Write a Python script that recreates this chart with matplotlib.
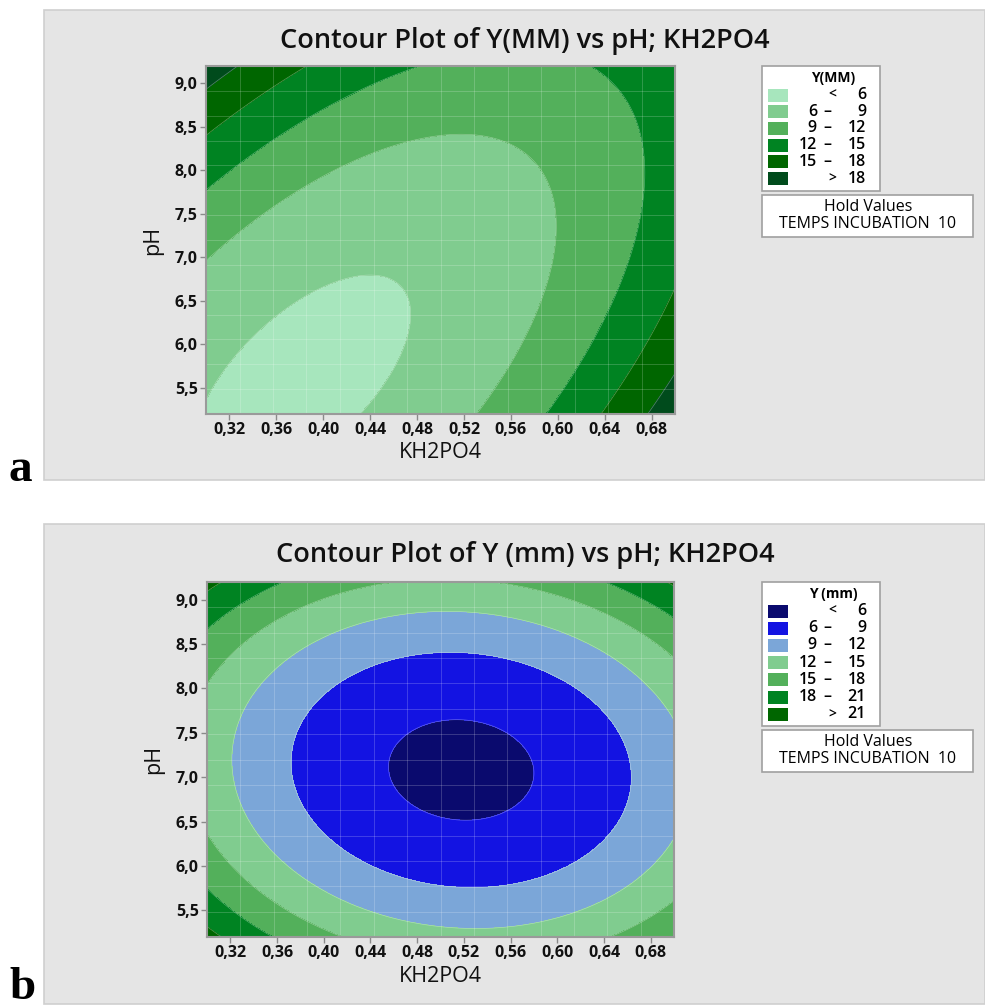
import numpy as np
import matplotlib.pyplot as plt
from matplotlib.patches import Rectangle

plt.rcParams["font.family"] = ["Open Sans", "DejaVu Sans"]

# Quadratic response-surface models in coded units:
#   X1 = (KH2PO4 - 0.5) / 0.1,  X2 = pH - 7.2
#   Y = b0 + b1*X1 + b2*X2 + b11*X1^2 + b22*X2^2 + b12*X1*X2
coef_a = [6.7353, 1.0457, 0.9787, 1.2822, 0.755, -1.2304]
coef_b = [5.4088, -0.5877, 0.4514, 1.7347, 2.098, 0.2389]

kh2po4_range = (0.30, 0.70)
ph_range = (5.2, 9.2)
hold_value = 10

levels_a = [6, 9, 12, 15, 18]
colors_a = ["#a7e6bd", "#80cc8f", "#53b05b", "#008322", "#006600", "#004b1c"]
levels_b = [6, 9, 12, 15, 18, 21]
colors_b = ["#0a0a6e", "#1313e2", "#7ba6d8", "#80cc8f", "#53b05b", "#008322", "#006600"]

x_ticks = [0.32, 0.36, 0.40, 0.44, 0.48, 0.52, 0.56, 0.60, 0.64, 0.68]
y_ticks = [5.5, 6.0, 6.5, 7.0, 7.5, 8.0, 8.5, 9.0]

W, H = 985, 1006
fig = plt.figure(figsize=(W / 100, H / 100), dpi=100, facecolor="white")

# full-figure axes in pixel units for the panels, boxes and loose text
bg = fig.add_axes([0, 0, 1, 1], zorder=0)
bg.set_xlim(0, W)
bg.set_ylim(H, 0)
bg.axis("off")


def surface(coef, x, p):
    a = (x - 0.5) / 0.1
    b = p - 7.2
    return coef[0] + coef[1] * a + coef[2] * b + coef[3] * a * a + coef[4] * b * b + coef[5] * a * b


def fmt(v, nd):
    return f"{v:.{nd}f}".replace(".", ",")


def legend_label(i, levels):
    if i == 0:
        return None, "<", str(levels[0])
    if i == len(levels):
        return None, ">", str(levels[-1])
    return str(levels[i - 1]), "\u2013", str(levels[i])


def draw_panel(top, bottom_edge, coef, levels, colors, title, legend_title, letter, plot_box, row_step):
    left, ptop, right, bottom = plot_box
    bg.add_patch(Rectangle((44, top), W - 44, bottom_edge - top, fc="#e5e5e5", ec="#cfcfcf", lw=1.2))
    bg.text(9, min(bottom_edge + 1, H - 7), letter, family="Liberation Serif", weight="bold", fontsize=34,
            ha="left", va="baseline", color="black")
    bg.text(525, top + 31, title, fontsize=19.5, weight="semibold", ha="center", va="center", color="#111111")

    ax = fig.add_axes([left / W, 1 - bottom / H, (right - left) / W, (bottom - ptop) / H], zorder=2)
    xs = np.linspace(*kh2po4_range, 300)
    ps = np.linspace(*ph_range, 300)
    X, P = np.meshgrid(xs, ps)
    Z = surface(coef, X, P)
    bounds = [min(Z.min(), levels[0]) - 1] + levels + [max(Z.max(), levels[-1]) + 1]
    ax.contourf(X, P, Z, levels=bounds, colors=colors)
    ax.contour(X, P, Z, levels=levels, colors="white", linewidths=0.5, alpha=0.35)
    for gx in np.linspace(*kh2po4_range, 15)[1:-1]:
        ax.axvline(gx, color="white", lw=0.6, alpha=0.22)
    for gp in np.linspace(*ph_range, 15)[1:-1]:
        ax.axhline(gp, color="white", lw=0.6, alpha=0.22)

    ax.set_xlim(*kh2po4_range)
    ax.set_ylim(*ph_range)
    ax.set_xticks(x_ticks)
    ax.set_xticklabels([fmt(v, 2) for v in x_ticks])
    ax.set_yticks(y_ticks)
    ax.set_yticklabels([fmt(v, 1) for v in y_ticks])
    ax.tick_params(length=4, width=1, color="#8a8a8a", labelsize=11.5, labelcolor="#111111", pad=2)
    for lab in ax.get_xticklabels() + ax.get_yticklabels():
        lab.set_fontweight("bold")
    for sp in ax.spines.values():
        sp.set_color("#9a9a9a")
        sp.set_linewidth(1.5)
    ax.set_xlabel("KH2PO4", fontsize=15.5, labelpad=3, color="#111111")
    ax.set_ylabel("pH", fontsize=15.5, labelpad=8, color="#111111")

    # contour legend
    n_rows = len(colors)
    row0 = ptop + 29
    box_bottom = row0 + (n_rows - 1) * row_step + 12
    bg.add_patch(Rectangle((762, ptop), 118, box_bottom - ptop, fc="white", ec="#a0a0a0", lw=1.2, zorder=1))
    bg.text(833, ptop + 12, legend_title, fontsize=10, weight="bold", ha="center", va="center", zorder=2)
    for i, c in enumerate(colors):
        yc = row0 + i * row_step
        bg.add_patch(Rectangle((768, yc - 6.5), 20, 13, fc=c, ec="none", zorder=2))
        lo, sym, hi = legend_label(i, levels)
        if lo is not None:
            bg.text(817, yc, lo, fontsize=11.5, weight="semibold", ha="right", va="center", zorder=2)
            bg.text(827, yc, sym, fontsize=11.5, weight="semibold", ha="center", va="center", zorder=2)
        else:
            bg.text(832, yc, sym, fontsize=10, weight="semibold", ha="center", va="center", zorder=2)
        bg.text(866, yc, hi, fontsize=11.5, weight="semibold", ha="right", va="center", zorder=2)

    # hold values box
    hb_top = box_bottom + 4
    bg.add_patch(Rectangle((762, hb_top), 211, 42, fc="white", ec="#a0a0a0", lw=1.2, zorder=1))
    bg.text(868, hb_top + 12, "Hold Values", fontsize=11.5, ha="center", va="center", zorder=2)
    bg.text(868, hb_top + 29, f"TEMPS INCUBATION  {hold_value}", fontsize=11.5, ha="center", va="center",
            zorder=2)


draw_panel(10, 480, coef_a, levels_a, colors_a, "Contour Plot of Y(MM) vs pH; KH2PO4", "Y(MM)", "a",
           (206, 66, 675, 414), 16.7)
draw_panel(524, 1004, coef_b, levels_b, colors_b, "Contour Plot of Y (mm) vs pH; KH2PO4", "Y (mm)", "b",
           (207, 582, 674, 937), 17.2)

fig.savefig("out.png", dpi=100, facecolor="white")
